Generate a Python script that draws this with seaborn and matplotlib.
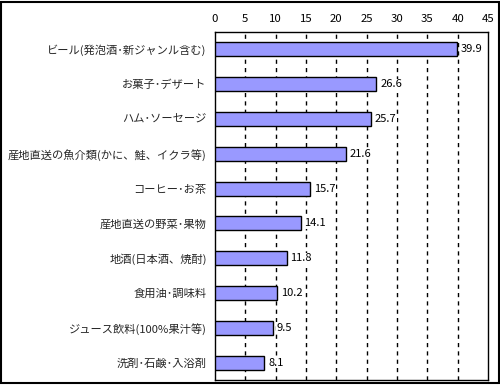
import matplotlib
matplotlib.use("Agg")
import matplotlib.pyplot as plt
import seaborn as sns
import pandas as pd
from matplotlib.patches import Rectangle

categories = [
    "ビール(発泡酒･新ジャンル含む)",
    "お菓子･デザート",
    "ハム･ソーセージ",
    "産地直送の魚介類(かに、鮭、イクラ等)",
    "コーヒー･お茶",
    "産地直送の野菜･果物",
    "地酒(日本酒、焼酎)",
    "食用油･調味料",
    "ジュース飲料(100%果汁等)",
    "洗剤･石鹸･入浴剤",
]
values = [39.9, 26.6, 25.7, 21.6, 15.7, 14.1, 11.8, 10.2, 9.5, 8.1]
xticks = [0, 5, 10, 15, 20, 25, 30, 35, 40, 45]

sns.set_theme(style="white")
plt.rcParams["font.family"] = ["Noto Sans CJK JP", "DejaVu Sans"]

df = pd.DataFrame({"item": categories, "value": values})

fig = plt.figure(figsize=(5, 3.85), dpi=100)
ax = fig.add_axes([0.43, 0.013, 0.546, 0.904])

sns.barplot(data=df, x="value", y="item", orient="h", color="#9999FF",
            saturation=1, edgecolor="black", linewidth=1, width=0.4, ax=ax, zorder=3)

ax.set_xlim(0, 45)
ax.set_ylim(len(categories) - 0.5, -0.5)
ax.set_xticks(xticks)
ax.xaxis.tick_top()
ax.tick_params(axis="x", length=0, pad=6, labelsize=8.2, colors="black")
ax.set_xlabel("")
ax.set_ylabel("")

ax.set_yticks(range(len(categories)))
ax.set_yticklabels(categories, fontsize=8.1)
ax.tick_params(axis="y", which="major", length=0, pad=6)
ax.set_yticks([i + 0.5 for i in range(len(categories) - 1)], minor=True)
ax.tick_params(axis="y", which="minor", direction="in", length=4, width=1, color="black")

for x in xticks[1:-1]:
    ax.axvline(x, color="black", linestyle=(0, (3, 3)), linewidth=1, zorder=1)

for s in ax.spines.values():
    s.set_color("black")
    s.set_linewidth(1)
    s.set_visible(True)

for i, v in enumerate(values):
    ax.text(v + 0.65, i, f"{v}", va="center", ha="left", fontsize=8, color="black", zorder=4,
            bbox=dict(facecolor="white", edgecolor="none", pad=0.3))

fig.patches.append(Rectangle((0.002, 0.004), 0.996, 0.992, transform=fig.transFigure,
                             fill=False, edgecolor="black", linewidth=1.5))

fig.savefig("out.png", dpi=100)
